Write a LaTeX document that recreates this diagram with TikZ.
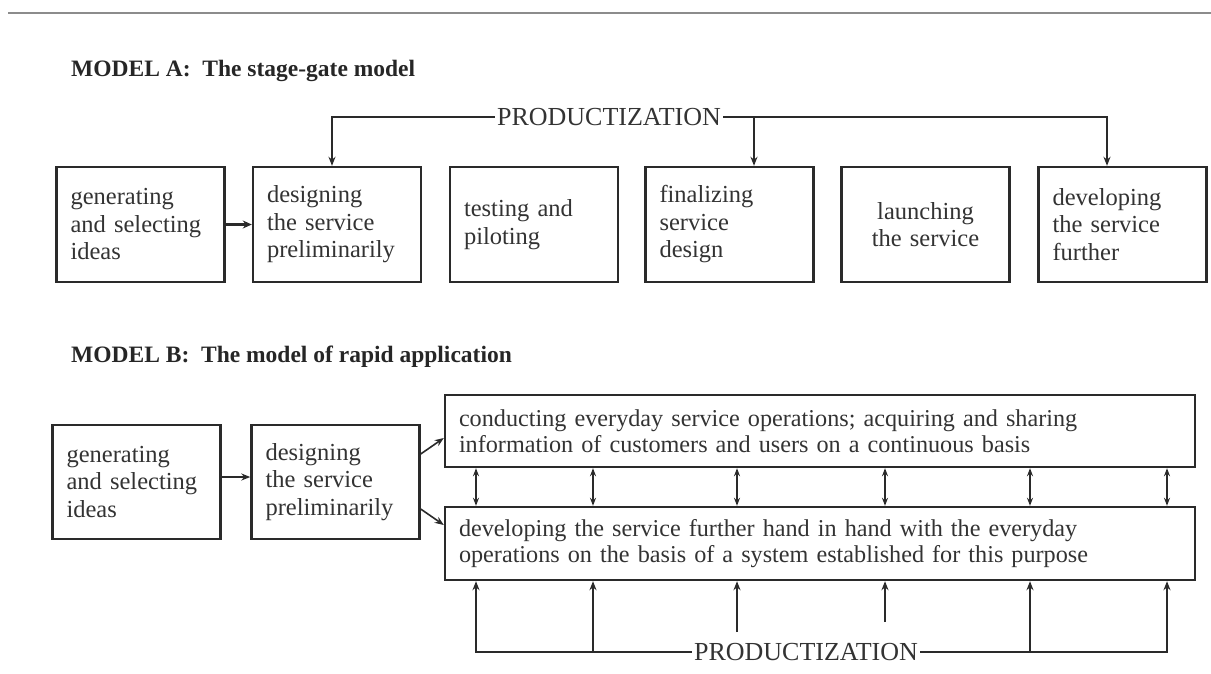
\documentclass[tikz,border=0pt]{standalone}
\usepackage{fontspec}
\setmainfont{Liberation Serif}
\usetikzlibrary{arrows.meta,calc}
\definecolor{ink}{HTML}{2A2A2A}
\definecolor{txt}{HTML}{333333}
\begin{document}
\begin{tikzpicture}[x=1pt,y=-1pt,
  box/.style={draw=ink, line width=2.4pt, text=txt, inner xsep=14pt, inner ysep=0pt,
    text width=140pt, align=left, minimum height=115pt,
    font=\fontsize{24.5}{27.5}\selectfont},
  wide/.style={draw=ink, line width=2.4pt, text=txt, inner xsep=14pt, inner ysep=0pt,
    text width=722pt, align=left, font=\fontsize{24.2}{26.5}\selectfont},
  title/.style={anchor=base west, text=black!85, inner sep=0pt,
    font=\bfseries\fontsize{23.5}{26}\selectfont},
  prod/.style={text=txt, inner sep=2pt, font=\fontsize{26}{28}\selectfont},
  arr/.style={draw=ink, line width=1.6pt, -{Stealth[length=9pt,width=7pt]}},
  thickarr/.style={draw=ink, line width=3pt, -{Stealth[length=9pt,width=8pt]}},
  darr/.style={draw=ink, line width=1.6pt, {Stealth[length=8pt,width=6pt]}-{Stealth[length=8pt,width=6pt]}}
]
\useasboundingbox (0,0) rectangle (1211,673);
\draw[black!45, line width=1.2pt] (8,13) -- (1211,13);

% ---------- Model A ----------
\node[title] (ta) at (71,76) {MODEL A:\ \ The stage-gate model};
\node[prod] (ptop) at (609,117) {PRODUCTIZATION};

\node[box] (a1) at (140.5,224.5) {generating\\and selecting\\ideas};
\node[box] (a2) at (337,224.5) {designing\\the service\\preliminarily};
\node[box] (a3) at (534,224.5) {testing and\\piloting};
\node[box] (a4) at (729.5,224.5) {finalizing\\service\\design};
\node[box, align=center] (a5) at (925.5,224.5) {launching\\the service};
\node[box] (a6) at (1122.5,224.5) {developing\\the service\\further};

\draw[thickarr] (a1.east) -- (a2.west);
\coordinate (k2) at ($(a2.north)+(-5,0)$);
\coordinate (k4) at ($(a4.north)+(24.5,0)$);
\coordinate (k6) at ($(a6.north)+(-15.5,0)$);
\draw[arr] (ptop.west) -| (k2);
\draw[arr] (ptop.east) -| (k6);
\draw[arr] (k4 |- ptop.east) -- (k4);

% ---------- Model B ----------
\node[title] (tb) at (71,362) {MODEL B:\ \ The model of rapid application};

\node[box, minimum height=114pt] (b1) at (136.5,482) {generating\\and selecting\\ideas};
\node[box, minimum height=114pt] (b2) at (335.5,482) {designing\\the service\\preliminarily};

\node[wide, minimum height=72pt] (up) at (820,431)
  {conducting everyday service operations; acquiring and sharing\\information of customers and users on a continuous basis};
\node[wide, minimum height=73pt] (lo) at (820,543.5)
  {developing the service further hand in hand with the everyday\\operations on the basis of a system established for this purpose};

\draw[arr] ($(b1.east)+(0,-5)$) -- ($(b2.west)+(0,-5)$);
\draw[arr] ($(b2.east)+(0,-28)$) -- ($(up.west)+(0,7)$);
\draw[arr] ($(b2.east)+(0,27)$) -- ($(lo.west)+(0,-18.5)$);

\foreach \i/\dx in {1/-344,2/-227,3/-83,4/65,5/210,6/347}{
  \coordinate (t\i) at ($(up.south)+(\dx,0)$);
  \coordinate (n\i) at ($(lo.north)+(\dx,0)$);
  \coordinate (s\i) at ($(lo.south)+(\dx,0)$);
  \draw[darr] (t\i) -- (n\i);
}

\node[prod] (pbot) at (806,652) {PRODUCTIZATION};
\draw[arr] (pbot.west) -| (s1);
\draw[arr] (s2 |- pbot.west) -- (s2);
\draw[arr] (pbot.east) -| (s6);
\draw[arr] (s5 |- pbot.east) -- (s5);
\coordinate (f3) at (737,632);
\coordinate (f4) at (885,622);
\draw[arr] (f3) -- (s3);
\draw[arr] (f4) -- (s4);
\end{tikzpicture}
\end{document}
